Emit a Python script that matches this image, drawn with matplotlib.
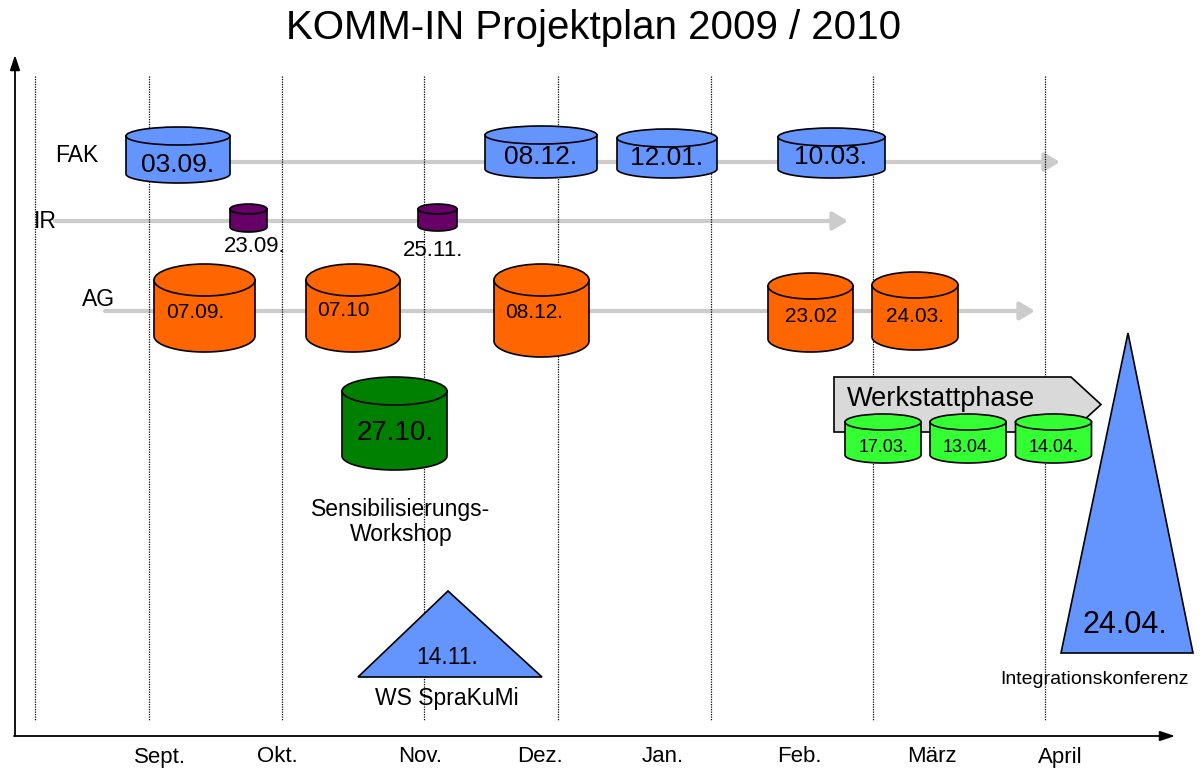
import matplotlib
matplotlib.use("Agg")
import matplotlib.pyplot as plt
import numpy as np
from matplotlib.patches import Polygon, Ellipse

plt.rcParams['font.family'] = ['Liberation Sans', 'DejaVu Sans']

# ---------------- data ----------------
title = "KOMM-IN Projektplan 2009 / 2010"
months = ["Sept.", "Okt.", "Nov.", "Dez.", "Jan.", "Feb.", "März", "April"]
month_label_x = [160, 277, 420, 540, 663, 799, 932, 1060]
month_grid_x = [35, 149, 282, 424, 558, 711, 873, 1045]

track_names = ["FAK", "IR", "AG"]

fak_dates = ["03.09.", "08.12.", "12.01.", "10.03."]
ir_dates = ["23.09.", "25.11."]
ag_dates = ["07.09.", "07.10", "08.12.", "23.02", "24.03."]
ws_date = "27.10."
ws_label = "Sensibilisierungs-\nWorkshop"
werk_label = "Werkstattphase"
werk_dates = ["17.03.", "13.04.", "14.04."]
spra_date = "14.11."
spra_label = "WS SpraKuMi"
konf_date = "24.04."
konf_label = "Integrationskonferenz"

# ---------------- layout ----------------
W, H = 1201, 769
fig = plt.figure(figsize=(W / 100, H / 100), dpi=100)
ax = fig.add_axes([0, 0, 1, 1])
ax.set_xlim(0, W)
ax.set_ylim(H, 0)
ax.axis("off")

BLUE = "#6495FF"
PURPLE = "#660066"
ORANGE = "#FF6600"
DKGREEN = "#008000"
LTGREEN = "#33FF33"
GRAY = "#CCCCCC"


def cylinder(xc, yt, yb, rx, ry, color, z=5, lw=1.2):
    t = np.linspace(np.pi, 0, 60)
    pts = [(xc - rx, yt)]
    pts += list(zip(xc + rx * np.cos(t), yb + ry * np.sin(t)))
    pts += [(xc + rx, yt)]
    ax.add_patch(Polygon(pts, closed=True, facecolor=color, edgecolor="black",
                         lw=lw, zorder=z))
    ax.add_patch(Ellipse((xc, yt), 2 * rx, 2 * ry, facecolor=color,
                         edgecolor="black", lw=lw, zorder=z + 0.1))


# title
ax.text(594, 28, title, fontsize=29, ha="center", va="center", zorder=10)

# axes arrows
ax.annotate("", xy=(15, 55), xytext=(15, 736),
            arrowprops=dict(arrowstyle="-|>,head_length=0.9,head_width=0.3",
                            color="black", lw=1.3, shrinkA=0, shrinkB=0,
                            mutation_scale=10))
ax.annotate("", xy=(1175, 736), xytext=(14, 736),
            arrowprops=dict(arrowstyle="-|>,head_length=0.9,head_width=0.3",
                            color="black", lw=1.3, shrinkA=0, shrinkB=0,
                            mutation_scale=10))

# month grid and labels
for gx in month_grid_x:
    ax.plot([gx, gx], [76, 720], color="black", lw=0.9, ls=(0, (1, 1.0)), zorder=2)
for m, lx in zip(months, month_label_x):
    ax.text(lx, 757, m, fontsize=16, ha="center", va="center", zorder=10)

# gray track arrows
track_label_pos = [(55, 156), (34, 221), (82, 300)]
track_y = [162, 221, 311]
track_x0 = [200, 55, 105]
track_x1 = [1060, 848, 1035]
for name, (tx, ty), y, x0, x1 in zip(track_names, track_label_pos, track_y,
                                      track_x0, track_x1):
    ax.annotate("", xy=(x1, y), xytext=(x0, y),
                arrowprops=dict(arrowstyle="-|>,head_length=0.75,head_width=0.45",
                                color=GRAY, lw=3.0, shrinkA=0, shrinkB=0,
                                mutation_scale=12), zorder=1)
    ax.text(tx, ty, name, fontsize=16.5, ha="left", va="center", zorder=10)

# FAK cylinders
fak_geom = [(178, 136, 174, 52, 9), (541, 135, 169, 56, 9),
            (667, 138, 169, 50, 9), (831.5, 137, 169, 53.5, 9)]
fak_text_xy = [(178, 165), (541, 157), (667, 158), (831, 157)]
for d, g, (tx, ty) in zip(fak_dates, fak_geom, fak_text_xy):
    cylinder(*g, BLUE)
    ax.text(tx, ty, d, fontsize=19, ha="center", va="center", zorder=10)

# IR cylinders
ir_geom = [(248.5, 209, 227, 18.5, 5), (437.5, 209, 226, 19.5, 5)]
ir_text_xy = [(255, 247), (433, 250)]
for d, g, (tx, ty) in zip(ir_dates, ir_geom, ir_text_xy):
    cylinder(*g, PURPLE)
    ax.text(tx, ty, d, fontsize=16, ha="center", va="center", zorder=10)

# AG cylinders
ag_geom = [(204.5, 280, 336, 50.5, 16), (353, 280, 336, 47, 16),
           (541.5, 280, 341, 47.5, 16), (810.5, 286, 339, 42.5, 13),
           (915, 285, 337, 43, 13)]
ag_text_xy = [(195, 312), (343, 310), (534, 312), (811, 317), (915, 317)]
for d, g, (tx, ty) in zip(ag_dates, ag_geom, ag_text_xy):
    cylinder(*g, ORANGE)
    ax.text(tx, ty, d, fontsize=15, ha="center", va="center", zorder=10)

# Sensibilisierungs-Workshop
cylinder(394.5, 391, 456, 52.5, 14, DKGREEN)
ax.text(395, 433, ws_date, fontsize=20, ha="center", va="center", zorder=10)
ax.text(401, 522, ws_label, fontsize=16.5, ha="center", va="center",
        linespacing=1.1, zorder=10)

# Werkstattphase
ax.add_patch(Polygon([(834, 377), (1071, 377), (1101, 404.5), (1071, 432), (834, 432)],
                     closed=True, facecolor="#D9D9D9", edgecolor="black",
                     lw=1.2, zorder=4))
ax.text(847, 399, werk_label, fontsize=19.5, ha="left", va="center", zorder=10)
werk_x = [883, 968, 1053.5]
for d, xc in zip(werk_dates, werk_x):
    cylinder(xc, 422, 455, 38, 8, LTGREEN, z=6)
    ax.text(xc, 447, d, fontsize=13, ha="center", va="center", zorder=10)

# WS SpraKuMi triangle
ax.add_patch(Polygon([(448, 591), (358, 677), (542, 677)], closed=True,
                     facecolor=BLUE, edgecolor="black", lw=1.2, zorder=5))
ax.text(447, 657, spra_date, fontsize=16.5, ha="center", va="center", zorder=10)
ax.text(447, 698, spra_label, fontsize=16.5, ha="center", va="center", zorder=10)

# Integrationskonferenz triangle
ax.add_patch(Polygon([(1128, 333), (1061, 653), (1193, 653)], closed=True,
                     facecolor=BLUE, edgecolor="black", lw=1.2, zorder=5))
ax.text(1125, 625, konf_date, fontsize=22, ha="center", va="center", zorder=10)
ax.text(1094, 680, konf_label, fontsize=14, ha="center", va="center", zorder=10)

fig.savefig("out.png", dpi=100)
